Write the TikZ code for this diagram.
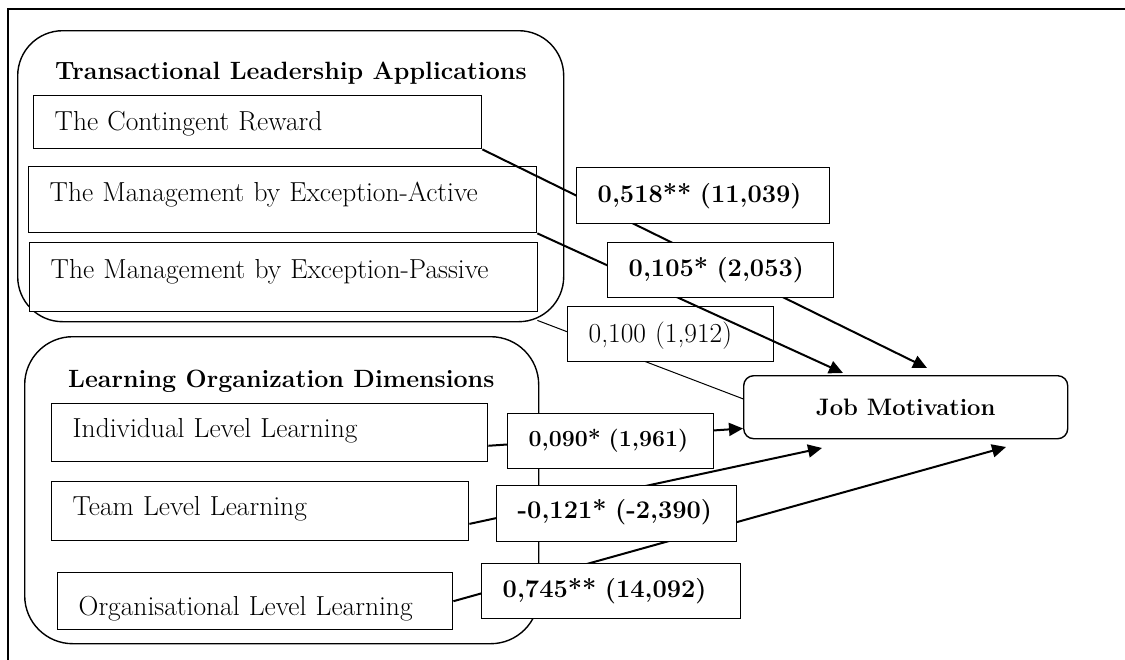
\documentclass[tikz,border=0pt]{standalone}
\usepackage{tikz}
\usetikzlibrary{arrows.meta, positioning, calc}

\tikzset{
	outerframe/.style={line width=1.5pt},
	groupbox/.style={draw, line width=1.4pt, rounded corners=#1, anchor=north west, inner sep=0pt},
	grouptitle/.style={anchor=base west, inner sep=0pt, font=\bfseries\fontsize{25}{30}\selectfont},
	dimbox/.style={draw, fill=white, line width=1.4pt, anchor=north west, inner xsep=21pt, inner ysep=0pt, align=left, font=\fontsize{27.5}{33}\selectfont},
	coefbox/.style={dimbox, font=\bfseries\fontsize{25.4}{30}\selectfont},
	outcome/.style={draw, fill=white, line width=1.4pt, rounded corners=10pt, anchor=north west, inner sep=0pt, font=\bfseries\fontsize{23.8}{28}\selectfont},
	effect/.style={line width=2pt, -{Triangle[length=14pt, width=13pt]}},
	weakeffect/.style={line width=1pt},
}

\begin{document}
\begin{tikzpicture}[x=1pt, y=-1pt]

\useasboundingbox (0,0) rectangle (1125,659);

\draw[outerframe] (8,680) -- (8,9) -- (1140,9); % frame, cut by the page

% groups
\node[groupbox=45pt, minimum width=546pt, minimum height=291pt] (tla) at (17,30) {};
\node[groupbox=48pt, minimum width=514pt, minimum height=307pt] (lod) at (24,336) {};
\node[grouptitle] (tlatitle) at (55,79) {Transactional Leadership Applications};
\node[grouptitle] (lodtitle) at (68,387) {Learning Organization Dimensions};

% dimensions
\node[dimbox, text width=406pt, text height=35pt, text depth=18pt] (cr)  at (33,95)  {The Contingent Reward};
\node[dimbox, text width=466pt, text height=35pt, text depth=31pt] (mea) at (28,166) {The Management by Exception-Active};
\node[dimbox, text width=466pt, text height=36pt, text depth=33pt] (mep) at (29,242) {The Management by Exception-Passive};
\node[dimbox, text width=394pt, text height=34pt, text depth=24pt] (ill) at (51,403) {Individual Level Learning};
\node[dimbox, text width=375pt, text height=34pt, text depth=25pt] (tll) at (51,481) {Team Level Learning};
\node[dimbox, text width=353pt, text height=43pt, text depth=14pt] (oll) at (57,572) {Organisational Level Learning};

\node[outcome, minimum width=324pt, minimum height=63pt] (jm) at (743,375) {Job Motivation};

% arrow ends
\coordinate (tlacorner) at ($(tla.south east)+(-27,-2)$);
\coordinate (tipcr)  at (927,368);
\coordinate (tipmea) at (843,373);
\coordinate (tiptll) at (822,448);
\coordinate (tipoll) at (1006,447);

\draw[weakeffect] (tlacorner) -- ($(jm.north west)!0.37!(jm.south west)$); % passive
\node[dimbox, text width=164pt, text height=36pt, text depth=19pt] (c100) at (567,306) {0,100 (1,912)};

\draw[effect] (cr.south east) -- (tipcr);
\draw[effect] (mea.south east) -- (tipmea);
\draw[effect] ($(ill.north east)!0.72!(ill.south east)$) -- ($(jm.north west)!0.83!(jm.south west)$);
\draw[effect] ($(tll.north east)!0.71!(tll.south east)$) -- (tiptll);
\draw[effect] (oll.east) -- (tipoll);

% coefficients
\node[coefbox, text width=211pt, text height=35pt, text depth=21pt] (c518) at (576,167) {0,518** (11,039)};
\node[coefbox, text width=184pt, text height=34pt, text depth=21pt] (c105) at (607,242) {0,105* (2,053)};
\node[coefbox, text width=164pt, text height=33pt, text depth=22pt, font=\bfseries\fontsize{23.1}{28}\selectfont] (c090) at (507,413) {0,090* (1,961)};
\node[coefbox, text width=198pt, text height=33pt, text depth=23pt] (c121) at (496,485) {-0,121* (-2,390)};
\node[coefbox, text width=217pt, text height=34pt, text depth=21pt] (c745) at (481,563) {0,745** (14,092)};

\end{tikzpicture}
\end{document}
